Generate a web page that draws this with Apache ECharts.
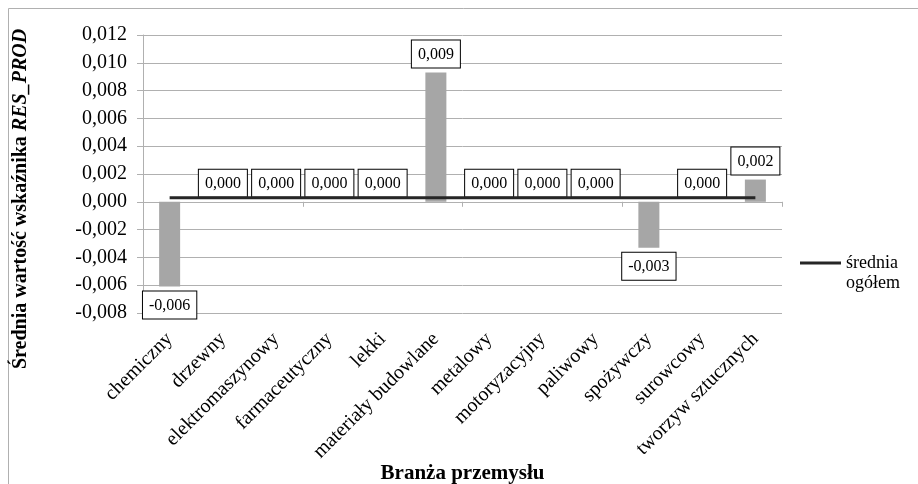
<!DOCTYPE html>
<html>
<head>
<meta charset="utf-8">
<script src="https://cdn.jsdelivr.net/npm/echarts@6/dist/echarts.min.js"></script>
<style>
  html, body { margin: 0; padding: 0; background: #fff; }
  #chart { width: 918px; height: 484px; }
</style>
</head>
<body>
<div id="chart"></div>
<script>
// Branches of industry
const categories = [
  'chemiczny', 'drzewny', 'elektromaszynowy', 'farmaceutyczny', 'lekki',
  'materiały budowlane', 'metalowy', 'motoryzacyjny', 'paliwowy',
  'spożywczy', 'surowcowy', 'tworzyw sztucznych'
];
// Mean RES_PROD value per branch
const branchMeans = [
  -0.0061, 0.0, 0.0, 0.0, 0.0, 0.0093, 0.0, 0.0, 0.0, -0.0033, 0.0, 0.0016
];
// Overall mean, drawn as a line across all branches
const overallMean = [
  0.0003, 0.0003, 0.0003, 0.0003, 0.0003, 0.0003,
  0.0003, 0.0003, 0.0003, 0.0003, 0.0003, 0.0003
];
const yMin = -0.008;
const yMax = 0.012;
const yStep = 0.002;

const serif = "'Liberation Serif', 'Times New Roman', serif";
const gridGray = '#b0b0b0';

const fmt = (v, digits) => {
  if (Math.abs(v) < 1e-9) v = 0;
  return v.toFixed(digits).replace('.', ',');
};

const chart = echarts.init(document.getElementById('chart'), null, { renderer: 'canvas' });

chart.setOption({
  backgroundColor: '#fff',
  animation: false,
  textStyle: { fontFamily: serif, color: '#000' },
  grid: {
    left: 143, right: 136, top: 35, bottom: 171,
    containLabel: false, outerBoundsMode: 'none'
  },
  graphic: [{
    type: 'rect',
    shape: { x: 8.5, y: 8.5, width: 930, height: 500 },
    style: { fill: 'none', stroke: gridGray, lineWidth: 1 },
    silent: true,
    z: -10
  }],
  legend: {
    left: 795,
    top: 228,
    orient: 'vertical',
    itemWidth: 41,
    itemHeight: 3,
    data: [{ name: 'średnia ogółem', icon: 'rect' }],
    // blank first line keeps the icon level with "średnia"
    formatter: () => ' \nśrednia\nogółem',
    textStyle: {
      fontFamily: serif, fontSize: 18, color: '#000', lineHeight: 20
    }
  },
  xAxis: [{
    type: 'category',
    data: categories,
    position: 'bottom',
    axisLine: { show: false, onZero: false },
    axisTick: { show: false },
    axisLabel: {
      rotate: 45, interval: 0, margin: 23,
      fontFamily: serif, fontSize: 20, color: '#000'
    },
    name: 'Branża przemysłu',
    nameLocation: 'middle',
    nameGap: 150,
    nameMoveOverlap: false,
    nameTextStyle: { fontFamily: serif, fontSize: 21, fontWeight: 'bold', color: '#000' },
    splitLine: { show: false }
  }, {
    type: 'category',
    data: categories,
    position: 'bottom',
    axisLine: { show: true, onZero: true, lineStyle: { color: gridGray, width: 1 } },
    axisTick: { show: true, length: 5, lineStyle: { color: gridGray } },
    axisLabel: { show: false },
    splitLine: { show: false }
  }],
  yAxis: {
    type: 'value',
    min: yMin, max: yMax, interval: yStep,
    axisLine: { show: true, lineStyle: { color: gridGray } },
    axisTick: { show: true, length: 6, lineStyle: { color: gridGray } },
    splitLine: { show: true, lineStyle: { color: gridGray, width: 1 } },
    axisLabel: {
      fontFamily: serif, fontSize: 20, color: '#000', margin: 16,
      formatter: v => fmt(v, 3)
    },
    name: '{b|Średnia wartość wskaźnika }{bi|RES_PROD}',
    nameLocation: 'middle',
    nameRotate: 90,
    nameGap: 112,
    nameMoveOverlap: false,
    nameTextStyle: {
      padding: [0, 50, 0, 0],
      rich: {
        b: { fontFamily: serif, fontSize: 20, fontWeight: 'bold', color: '#000' },
        bi: { fontFamily: serif, fontSize: 20, fontWeight: 'bold', fontStyle: 'italic', color: '#000' }
      }
    }
  },
  series: [{
    name: 'Średnia branży',
    type: 'bar',
    xAxisIndex: 0,
    barWidth: 21,
    itemStyle: { color: '#a6a6a6' },
    data: branchMeans.map(v => ({
      value: v,
      label: { position: v < 0 ? 'bottom' : 'top' }
    })),
    label: {
      show: true,
      distance: 5,
      formatter: p => fmt(p.value, 3),
      fontFamily: serif, fontSize: 16, color: '#000',
      backgroundColor: '#fff',
      borderColor: '#000', borderWidth: 1,
      padding: [6, 6, 5, 6]
    },
    z: 2
  }, {
    name: 'średnia ogółem',
    type: 'line',
    xAxisIndex: 0,
    data: overallMean,
    symbol: 'none',
    lineStyle: { color: '#262626', width: 3 },
    itemStyle: { color: '#262626' },
    z: 3
  }]
});
</script>
</body>
</html>
